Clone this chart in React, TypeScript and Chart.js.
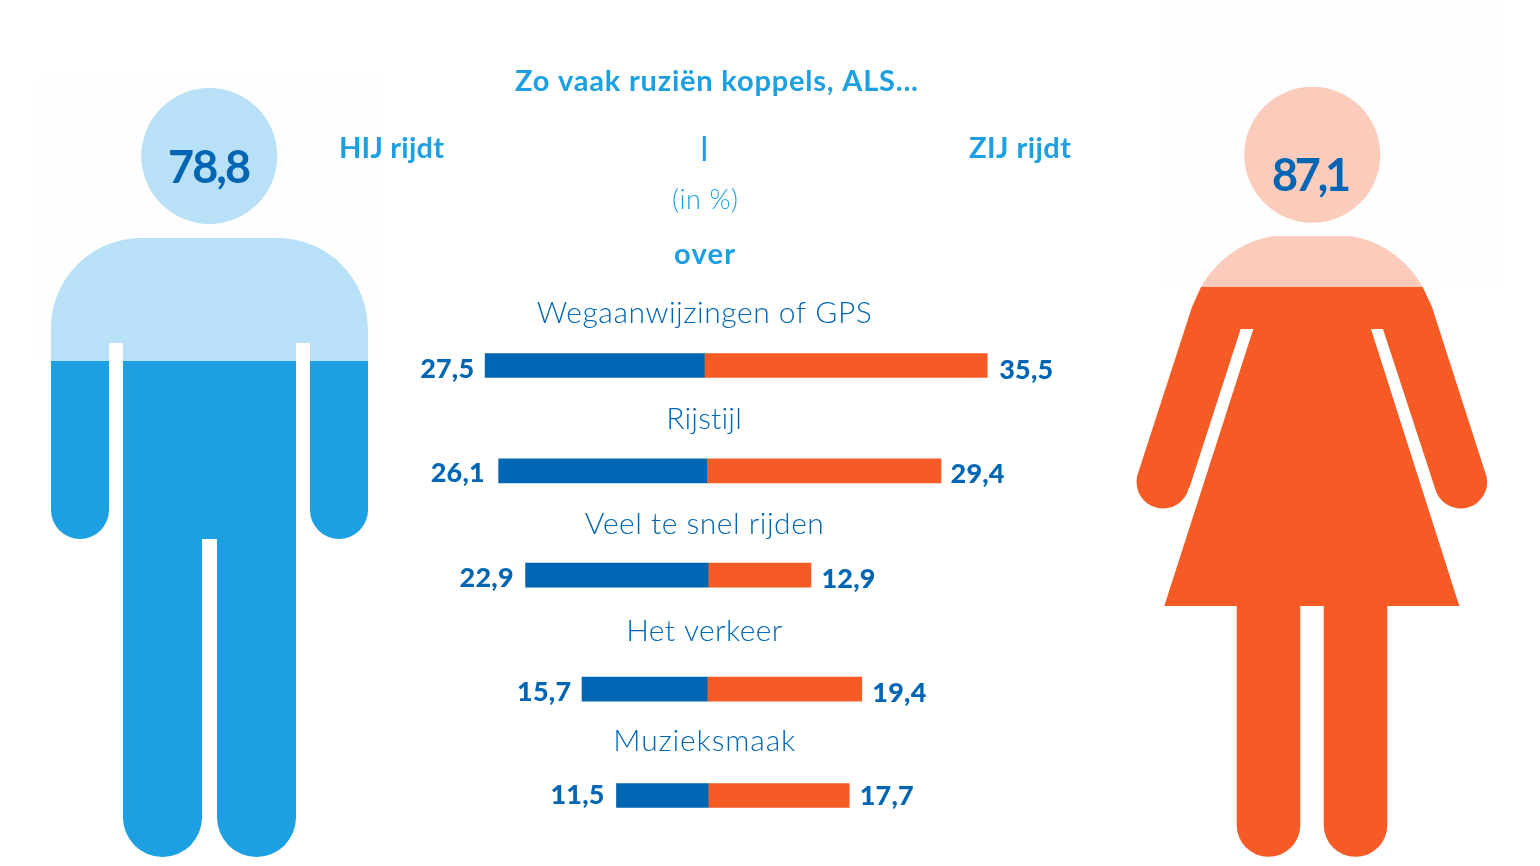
import React, { useEffect, useRef } from "react";
import { Chart, registerables } from "chart.js";

Chart.register(...registerables);

// ---- data
const topics = ["Wegaanwijzingen of GPS", "Rijstijl", "Veel te snel rijden", "Het verkeer", "Muzieksmaak"];
const hijValues = [27.5, 26.1, 22.9, 15.7, 11.5];
const zijValues = [35.5, 29.4, 12.9, 19.4, 17.7];
const hijTotal = 78.8;
const zijTotal = 87.1;
const titleText = "Zo vaak ruziën koppels, ALS...";
const hijLabel = "HIJ rijdt";
const zijLabel = "ZIJ rijdt";
const unitText = "(in %)";
const overText = "over";

// ---- layout (row slots on the y scale, drift of the bar origin on the x scale)
const rowSlots = [0, 0.98, 1.95, 3.01, 4.0];
const originDrift = [0, 0.3, 0.48, 0.36, 0.48];
const topicLift = [43, 41.5, 41.5, 48.5, 45];
const topicWidth = [335, 76, 239, 156, 182];
const valueLift = [0, 1, 0, 0, 3.5];
const leftGap = [11, 14, 12, 11, 12];
const rightGap = [12, 9.5, 10.5, 10.5, 10.5];

const DARK = "#0066b3";
const SKY = "#1ca0e2";
const LIGHT = "#b8e0f6";
const ORANGE = "#f65b25";
const PEACH = "#fbcbbc";
const W = 1540;
const H = 866;
const FACE = "Lato, 'Open Sans', sans-serif";

const fmt = (v: number) => v.toFixed(1).replace(".", ",");

function fitText(ctx: CanvasRenderingContext2D, text: string, left: number, base: number, width: number, font: string, color: string) {
  ctx.save();
  ctx.font = font;
  ctx.fillStyle = color;
  ctx.textAlign = "left";
  ctx.textBaseline = "alphabetic";
  (ctx as any).letterSpacing = "0px";
  const natural = ctx.measureText(text).width;
  (ctx as any).letterSpacing = `${(width - natural) / Math.max(1, text.length - 1)}px`;
  ctx.fillText(text, left, base);
  ctx.restore();
}

function manPath() {
  const p = new Path2D();
  p.moveTo(51, 330);
  p.bezierCurveTo(51, 278, 91, 238, 143, 238);
  p.lineTo(276, 238);
  p.bezierCurveTo(328, 238, 368, 278, 368, 330);
  p.lineTo(368, 510);
  p.arc(339, 510, 29, 0, Math.PI);
  p.lineTo(310, 343);
  p.lineTo(296, 343);
  p.lineTo(296, 817.5);
  p.arc(256.5, 817.5, 39.5, 0, Math.PI);
  p.lineTo(217, 539);
  p.lineTo(202, 539);
  p.lineTo(202, 817.5);
  p.arc(162.5, 817.5, 39.5, 0, Math.PI);
  p.lineTo(123, 343);
  p.lineTo(109, 343);
  p.lineTo(109, 510);
  p.arc(80, 510, 29, 0, Math.PI);
  p.closePath();
  return p;
}

function womanPath() {
  const p = new Path2D();
  p.moveTo(1277, 236);
  p.lineTo(1347, 236);
  p.bezierCurveTo(1378, 238, 1408, 260, 1422.7, 287);
  p.lineTo(1432, 307);
  p.lineTo(1486, 475);
  p.arc(1460.7, 482, 26.5, -0.27, 2.91);
  p.lineTo(1383, 329);
  p.lineTo(1371, 329);
  p.lineTo(1459.3, 606);
  p.lineTo(1387.3, 606);
  p.lineTo(1387.3, 825);
  p.arc(1355.5, 825, 31.8, 0, Math.PI);
  p.lineTo(1323.7, 606);
  p.lineTo(1300.3, 606);
  p.lineTo(1300.3, 825);
  p.arc(1268.5, 825, 31.8, 0, Math.PI);
  p.lineTo(1236.7, 606);
  p.lineTo(1164.3, 606);
  p.lineTo(1253.3, 329);
  p.lineTo(1240.7, 329);
  p.lineTo(1189.3, 488);
  p.arc(1163, 482, 26.5, 0.22, 3.41);
  p.lineTo(1192, 307);
  p.lineTo(1201, 287);
  p.bezierCurveTo(1216, 260, 1246, 238, 1277, 236);
  p.closePath();
  return p;
}

function twoTone(ctx: CanvasRenderingContext2D, path: Path2D, split: number, top: string, bottom: string) {
  ctx.save();
  ctx.clip(path);
  ctx.fillStyle = top;
  ctx.fillRect(0, 0, W, split);
  ctx.fillStyle = bottom;
  ctx.fillRect(0, split, W, H - split);
  ctx.restore();
}

const figuresPlugin = {
  id: "figures",
  beforeDatasetsDraw(chart: any) {
    const ctx: CanvasRenderingContext2D = chart.ctx;
    ctx.save();
    ctx.fillStyle = "#fefefe";
    ctx.fillRect(38, 76, 343, 285);
    ctx.fillRect(1163, 0, 340, 287);
    twoTone(ctx, manPath(), 361, LIGHT, SKY);
    twoTone(ctx, womanPath(), 287, PEACH, ORANGE);
    ctx.fillStyle = LIGHT;
    ctx.beginPath();
    ctx.arc(209.3, 156, 68, 0, Math.PI * 2);
    ctx.fill();
    ctx.fillStyle = PEACH;
    ctx.beginPath();
    ctx.arc(1312.3, 154.7, 68, 0, Math.PI * 2);
    ctx.fill();
    ctx.restore();
  },
  afterDatasetsDraw(chart: any) {
    const ctx: CanvasRenderingContext2D = chart.ctx;
    const x = chart.scales.x;
    const y = chart.scales.y;
    const heavy = `900 27px ${FACE}`;
    const zeroX = x.getPixelForValue(0);

    fitText(ctx, fmt(hijTotal), 168, 183, 83, `700 45px ${FACE}`, DARK);
    fitText(ctx, fmt(zijTotal), 1272, 191, 79, `700 45px ${FACE}`, DARK);

    fitText(ctx, titleText, 515, 91, 403, `700 29px ${FACE}`, SKY);
    fitText(ctx, hijLabel, 339, 158, 105, `700 29px ${FACE}`, SKY);
    fitText(ctx, zijLabel, 969, 158, 102, `700 29px ${FACE}`, SKY);
    ctx.fillStyle = SKY;
    ctx.fillRect(zeroX - 1.5, 136, 3, 25);
    fitText(ctx, unitText, 672, 209, 66, `300 27px ${FACE}`, SKY);
    fitText(ctx, overText, 674, 264, 61, `700 29px ${FACE}`, SKY);

    topics.forEach((topic, i) => {
      const py = y.getPixelForValue(rowSlots[i]);
      const tw = topicWidth[i];
      fitText(ctx, topic, zeroX - tw / 2, py - topicLift[i], tw, `300 30px ${FACE}`, DARK);
      const leftText = fmt(hijValues[i]);
      const rightText = fmt(zijValues[i]);
      const lx = x.getPixelForValue(originDrift[i] - hijValues[i]) - leftGap[i];
      const rx = x.getPixelForValue(originDrift[i] + zijValues[i]) + rightGap[i];
      fitText(ctx, leftText, lx - 54, py + 12 - valueLift[i], 54, heavy, DARK);
      fitText(ctx, rightText, rx, py + 13 - valueLift[i], 54, heavy, DARK);
    });
  },
};

export default function App() {
  const ref = useRef<HTMLCanvasElement>(null);
  useEffect(() => {
    if (!ref.current) return;
    document.body.style.margin = "0";
    const unit = 7.97;
    const chart = new Chart(ref.current, {
      type: "bar",
      data: {
        datasets: [
          {
            label: hijLabel,
            data: hijValues.map((v, i) => ({ x: [originDrift[i] - v, originDrift[i]], y: rowSlots[i] })),
            backgroundColor: DARK,
          },
          {
            label: zijLabel,
            data: zijValues.map((v, i) => ({ x: [originDrift[i], originDrift[i] + v], y: rowSlots[i] })),
            backgroundColor: ORANGE,
          },
        ] as any,
      },
      options: {
        indexAxis: "y",
        responsive: false,
        devicePixelRatio: 1,
        animation: false,
        layout: { padding: 0 },
        datasets: { bar: { grouped: false, barThickness: 24, borderWidth: 0 } },
        plugins: { legend: { display: false }, title: { display: false }, tooltip: { enabled: false } },
        scales: {
          x: { type: "linear", min: -704.3 / unit, max: (W - 704.3) / unit, display: false, offset: false },
          y: { type: "linear", reverse: true, min: -365.5 / 107.5, max: (H - 365.5) / 107.5, display: false, offset: false },
        },
      } as any,
      plugins: [figuresPlugin],
    });
    return () => chart.destroy();
  }, []);
  return <canvas ref={ref} width={W} height={H} style={{ display: "block" }} />;
}
